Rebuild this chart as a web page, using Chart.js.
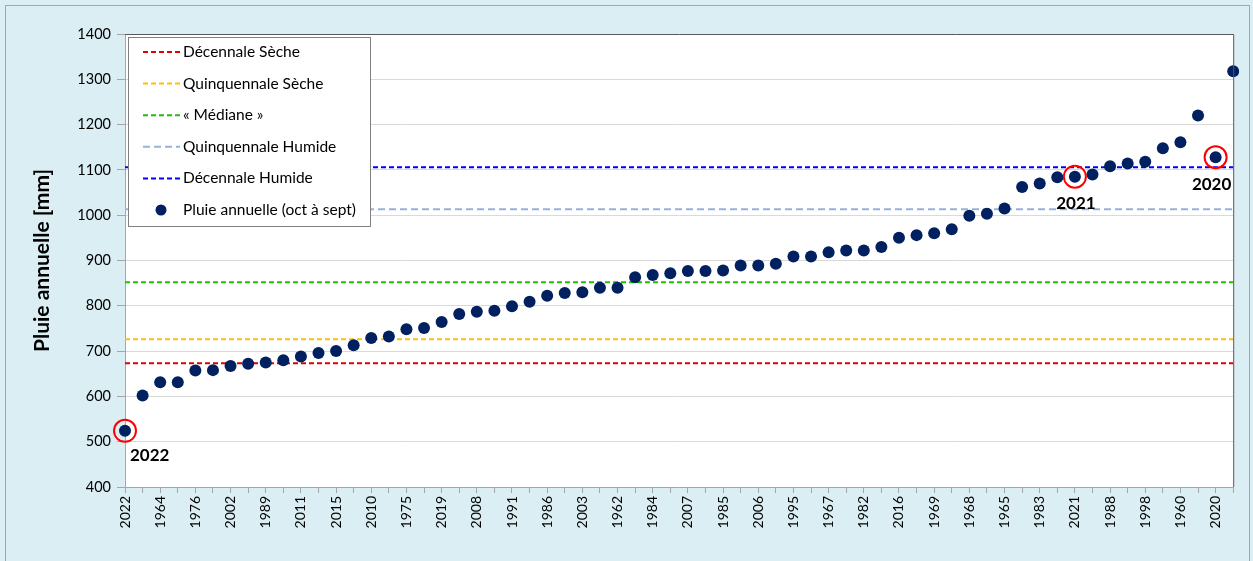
<!DOCTYPE html>
<html>
<head>
<meta charset="utf-8">
<script src="https://cdn.jsdelivr.net/npm/chart.js@4"></script>
<style>
  body { margin: 0; overflow: hidden; background: #fff; }
  #wrap { width: 1253px; height: 561px; position: relative; }
</style>
</head>
<body>
<div id="wrap"><canvas id="rainChart"></canvas></div>
<script>
// years shown on the axis (every other point is labelled)
const tickLabels = ['2022', '1964', '1976', '2002', '1989', '2011', '2015', '2010', '1975', '2019', '2008',
    '1991', '1986', '2003', '1962', '1984', '2007', '1985', '2006', '1995', '1967', '1982', '2016',
    '1969', '1968', '1965', '1983', '2021', '1988', '1998', '1960', '2020'];

// annual rain (oct to sept), mm, in chart order
const rain = [524, 602, 631, 631, 657, 658, 667, 672, 675, 680, 688, 696, 700, 713, 729, 732,
    748, 751, 764, 782, 787, 789, 799, 809, 822, 828, 830, 840, 840, 863, 868, 872,
    877, 877, 878, 889, 889, 893, 909, 909, 918, 922, 922, 930, 950, 956, 960, 969,
    999, 1003, 1015, 1062, 1070, 1084, 1085, 1090, 1108, 1114, 1118, 1148, 1161, 1220, 1128, 1318];

// reference levels, mm
const decennaleSeche = 673;
const quinquennaleSeche = 726;
const mediane = 852;
const quinquennaleHumide = 1013;
const decennaleHumide = 1106;

const highlightYears = ['2022', '2021', '2020'];

const categories = rain.map((v, i) => (i % 2 === 0 ? tickLabels[i / 2] : ''));
const flat = (v) => rain.map(() => v);

const FONT = 'Lato, "Noto Sans", sans-serif';

function levelLine(label, value, color, dash) {
    return {
        label: label,
        data: flat(value),
        borderColor: color,
        backgroundColor: color,
        borderWidth: 2,
        borderDash: dash,
        pointRadius: 0,
        fill: false,
        order: 2
    };
}

const bgPlugin = {
    id: 'bgPlugin',
    beforeDraw(chart) {
        const { ctx, chartArea: a, width, height } = chart;
        ctx.save();
        ctx.fillStyle = '#DAEEF3';
        ctx.fillRect(0, 0, width, height);
        ctx.strokeStyle = '#A6A6A6';
        ctx.lineWidth = 1;
        ctx.strokeRect(5.5, 5.5, width - 9, height + 10);
        ctx.fillStyle = '#FFFFFF';
        ctx.fillRect(a.left, a.top, a.right - a.left, a.bottom - a.top);
        ctx.restore();
    },
    afterDatasetsDraw(chart) {
        const { ctx, chartArea: a } = chart;
        ctx.save();
        // plot frame, top and right
        ctx.strokeStyle = '#595959';
        ctx.lineWidth = 1;
        ctx.beginPath();
        ctx.moveTo(a.left, a.top + 0.5);
        ctx.lineTo(a.right + 0.5, a.top + 0.5);
        ctx.lineTo(a.right + 0.5, a.bottom);
        ctx.stroke();

        // year tags beside the circled points
        const xs = chart.scales.x, ys = chart.scales.y;
        ctx.fillStyle = '#000';
        ctx.font = 'bold 17px ' + FONT;
        ctx.textBaseline = 'middle';
        highlightYears.forEach((yr) => {
            const i = categories.indexOf(yr);
            const px = xs.getPixelForValue(i);
            const py = ys.getPixelForValue(rain[i]);
            if (i === 0) {
                ctx.textAlign = 'left';
                ctx.fillText(yr, px + 5, py + 25);
            } else {
                ctx.textAlign = 'center';
                ctx.fillText(yr, px - (i === rain.length - 2 ? 4 : -1), py + 27);
            }
        });

        // legend box in the upper left corner
        const lx = a.left + 3, ly = a.top + 3, lw = 242, lh = 189;
        ctx.fillStyle = '#FFFFFF';
        ctx.fillRect(lx, ly, lw, lh);
        ctx.strokeStyle = '#808080';
        ctx.strokeRect(lx + 0.5, ly + 0.5, lw, lh);
        ctx.font = '15.5px ' + FONT;
        ctx.textAlign = 'left';
        const items = chart.data.datasets.filter((d) => d.label);
        items.forEach((d, k) => {
            const ry = ly + 15 + k * 31.6;
            if (d.showLine === false) {
                ctx.fillStyle = d.backgroundColor;
                ctx.beginPath();
                ctx.arc(lx + 33, ry, 5.5, 0, Math.PI * 2);
                ctx.fill();
            } else {
                ctx.strokeStyle = d.borderColor;
                ctx.lineWidth = 2;
                ctx.setLineDash(d.borderDash);
                ctx.beginPath();
                ctx.moveTo(lx + 15, ry);
                ctx.lineTo(lx + 52, ry);
                ctx.stroke();
                ctx.setLineDash([]);
            }
            ctx.fillStyle = '#000';
            ctx.fillText(d.label, lx + 55, ry);
        });
        ctx.restore();
    }
};

document.addEventListener('DOMContentLoaded', () => {
    const ctx = document.getElementById('rainChart').getContext('2d');
    new Chart(ctx, {
        type: 'line',
        data: {
            labels: categories,
            datasets: [
                levelLine('Décennale Sèche', decennaleSeche, '#E00000', [5, 3]),
                levelLine('Quinquennale Sèche', quinquennaleSeche, '#FFC000', [5, 3]),
                levelLine('« Médiane »', mediane, '#22C000', [5, 3]),
                levelLine('Quinquennale Humide', quinquennaleHumide, '#95B3D7', [7, 4]),
                levelLine('Décennale Humide', decennaleHumide, '#0000FF', [5, 3]),
                {
                    label: 'Pluie annuelle (oct à sept)',
                    data: rain,
                    showLine: false,
                    pointRadius: 6,
                    pointBackgroundColor: '#002060',
                    pointBorderWidth: 0,
                    backgroundColor: '#002060',
                    borderColor: '#002060',
                    order: 1
                },
                {
                    label: '',
                    data: rain.map((v, i) => (highlightYears.includes(categories[i]) ? v : null)),
                    showLine: false,
                    pointRadius: 11,
                    pointBackgroundColor: 'rgba(0,0,0,0)',
                    pointBorderColor: '#FF0000',
                    pointBorderWidth: 2,
                    order: 0
                }
            ]
        },
        options: {
            responsive: true,
            maintainAspectRatio: false,
            animation: false,
            layout: { padding: { left: 30, right: 18, top: 34, bottom: 0 } },
            plugins: {
                legend: { display: false },
                tooltip: { enabled: false }
            },
            scales: {
                x: {
                    offset: false,
                    grid: { drawOnChartArea: false, color: '#A6A6A6', tickLength: 6 },
                    border: { color: '#A6A6A6' },
                    ticks: {
                        autoSkip: false,
                        maxRotation: 90,
                        minRotation: 90,
                        padding: 3,
                        color: '#000',
                        font: { family: FONT, size: 14 }
                    },
                    afterFit(scale) { scale.height = 74; }
                },
                y: {
                    min: 400,
                    max: 1400,
                    ticks: {
                        stepSize: 100,
                        padding: 6,
                        color: '#000',
                        font: { family: FONT, size: 14.5 },
                        callback: (v) => String(v)
                    },
                    grid: { color: '#D9D9D9', tickLength: 8, tickColor: '#A6A6A6' },
                    border: { color: '#A6A6A6' },
                    title: {
                        display: true,
                        text: 'Pluie annuelle [mm]',
                        color: '#000',
                        font: { family: FONT, size: 21, weight: 'bold' },
                        padding: { top: 0, bottom: 0 }
                    },
                    afterFit(scale) { scale.width = 95; }
                }
            }
        },
        plugins: [bgPlugin]
    });
});
</script>
</body>
</html>
